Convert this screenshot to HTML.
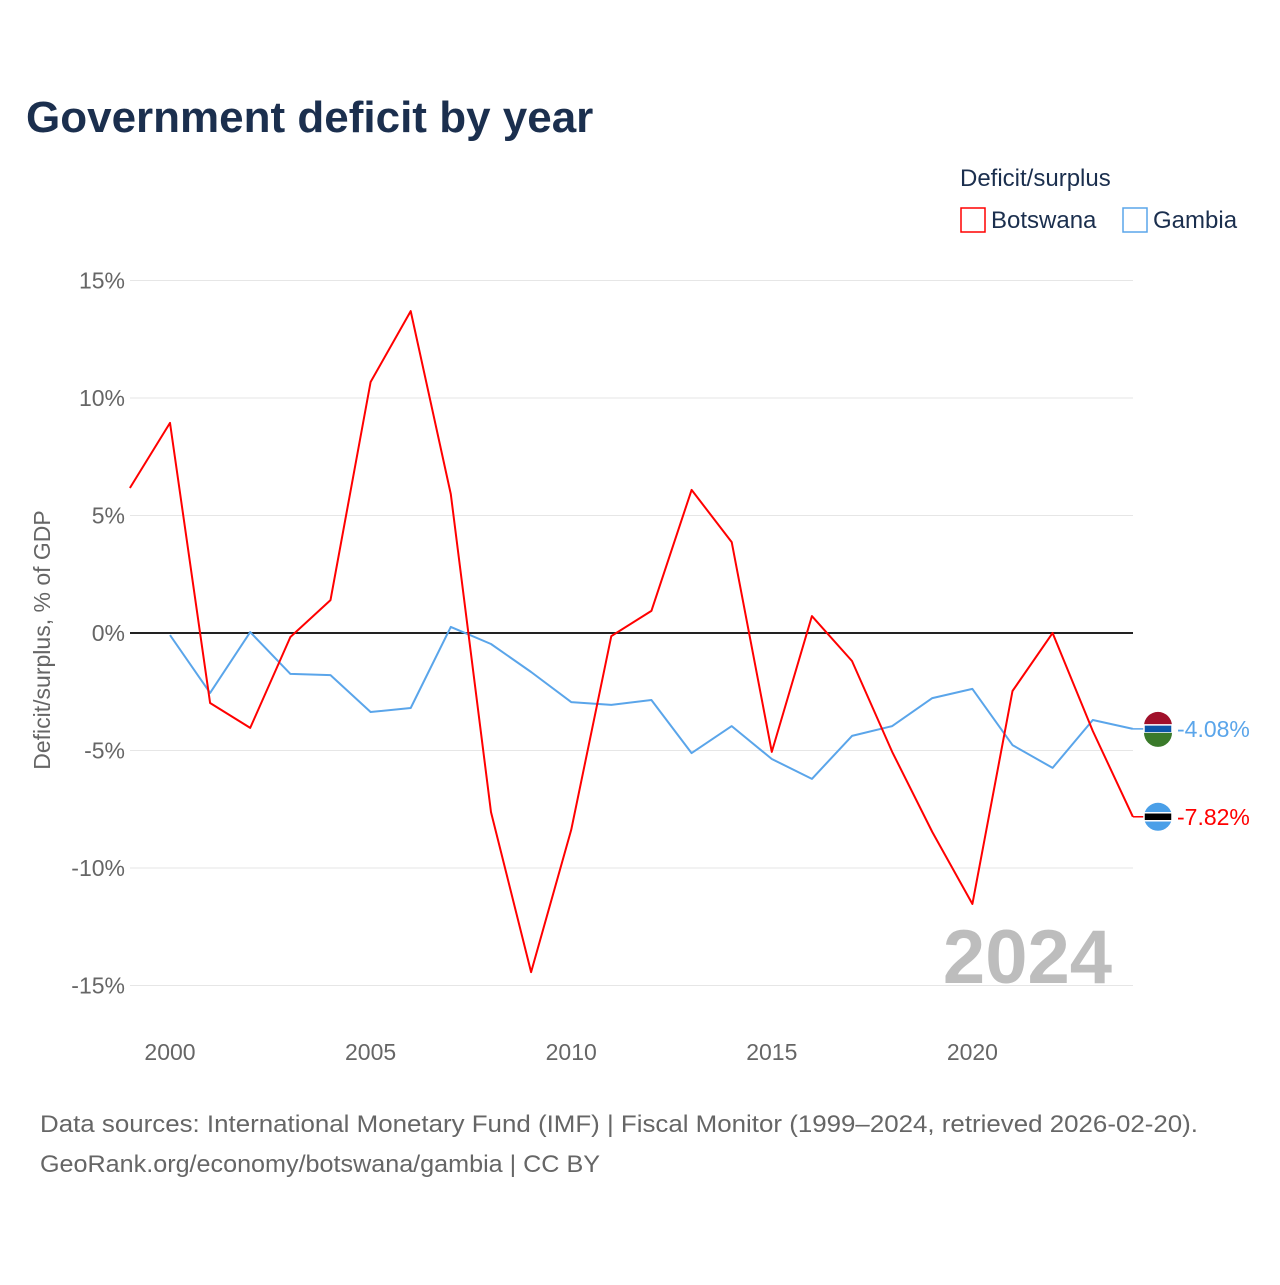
<!DOCTYPE html>
<html><head><meta charset="utf-8"><style>
body{margin:0;width:1280px;height:1280px;background:#fff;font-family:"Liberation Sans",sans-serif;overflow:hidden}
</style></head><body>
<svg id="chart" width="1280" height="1280" xmlns="http://www.w3.org/2000/svg" font-family="Liberation Sans, sans-serif">
<text x="26" y="132" font-size="44" font-weight="bold" fill="#1b2f4e">Government deficit by year</text>
<text x="960" y="186" font-size="24" fill="#1b2f4e">Deficit/surplus</text>
<g><rect x="961" y="208" width="24" height="24" fill="none" stroke="#ff0000" stroke-width="1.5"/><text x="991" y="228" font-size="24" fill="#1b2f4e">Botswana</text></g>
<g><rect x="1123" y="208" width="24" height="24" fill="none" stroke="#5aa5ea" stroke-width="1.5"/><text x="1153" y="228" font-size="24" fill="#1b2f4e">Gambia</text></g>
<text transform="translate(50,640) rotate(-90)" text-anchor="middle" font-size="23" fill="#666">Deficit/surplus, % of GDP</text>
<g id="grid"></g><g id="yticks"></g><g id="xticks"></g>
<text x="1112" y="983" text-anchor="end" font-size="76" font-weight="bold" fill="#bdbdbd">2024</text>
<g id="series"></g>
<text x="40" y="1132" font-size="24" fill="#666" textLength="1158" lengthAdjust="spacingAndGlyphs">Data sources: International Monetary Fund (IMF) | Fiscal Monitor (1999–2024, retrieved 2026-02-20).</text>
<text x="40" y="1172" font-size="24" fill="#666" textLength="560" lengthAdjust="spacingAndGlyphs">GeoRank.org/economy/botswana/gambia | CC BY</text>
</svg>
<script>
const years=[1999,2000,2001,2002,2003,2004,2005,2006,2007,2008,2009,2010,2011,2012,2013,2014,2015,2016,2017,2018,2019,2020,2021,2022,2023,2024];
const botswana=[6.17,8.94,-2.98,-4.04,-0.17,1.40,10.68,13.70,5.91,-7.62,-14.43,-8.38,-0.13,0.94,6.09,3.87,-5.06,0.72,-1.19,-5.06,-8.47,-11.53,-2.47,0.0,-4.17,-7.82];
const gambia=[null,-0.09,-2.55,0.04,-1.74,-1.79,-3.36,-3.19,0.26,-0.47,-1.66,-2.94,-3.06,-2.85,-5.11,-3.96,-5.36,-6.21,-4.38,-3.96,-2.77,-2.38,-4.77,-5.74,-3.70,-4.08];
const yTicks=[15,10,5,0,-5,-10,-15];
const xTicks=[2000,2005,2010,2015,2020];
const NS="http://www.w3.org/2000/svg";
const x=v=>170+(v-2000)*40.12;
const y=v=>633-v*23.5;
function mk(t,a,p){const e=document.createElementNS(NS,t);for(const k in a)e.setAttribute(k,a[k]);p.appendChild(e);return e;}
const grid=document.getElementById('grid'),yt=document.getElementById('yticks'),xt=document.getElementById('xticks'),se=document.getElementById('series');
yTicks.forEach(t=>{
 const l=mk('line',{x1:130,x2:1133,y1:y(t),y2:y(t),stroke:t===0?'#222':'#e6e6e6','stroke-width':t===0?2:1},grid);
 
 
 const tx=mk('text',{x:125,y:y(t)+8,'text-anchor':'end','font-size':23,fill:'#666'},yt);
 tx.textContent=t+'%';
 
 
});
xTicks.forEach(t=>{
 const tx=mk('text',{x:x(t),y:1060,'text-anchor':'middle','font-size':23,fill:'#666'},xt);
 tx.textContent=t;
 
 
});
function line(vals,color,name){
 const pts=[];vals.forEach((v,i)=>{if(v!==null)pts.push(x(years[i]).toFixed(1)+','+y(v).toFixed(1));});
 const p=mk('polyline',{points:pts.join(' '),fill:'none',stroke:color,'stroke-width':2,'stroke-linejoin':'round'},se);
 
 
 const last=vals[vals.length-1],ly=y(last);
 mk('line',{x1:1133,x2:1146,y1:ly,y2:ly,stroke:color,'stroke-width':1.5},se);
 const g=mk('g',{},se);
 
 
 if(name==='gambia'){
  mk('path',{d:`M1144 ${ly-3} A14 14 0 0 1 1172 ${ly-3} Z`,fill:'#a0102a'},g);
  mk('rect',{x:1144,y:ly-4,width:28,height:8,fill:'#0c57a8',stroke:'#fff','stroke-width':1.5},g);
  mk('path',{d:`M1144 ${ly+4} A14 14 0 0 0 1172 ${ly+4} Z`,fill:'#3a7a2a'},g);
 }else{
  mk('circle',{cx:1158,cy:ly,r:14,fill:'#4a9fe8'},g);
  mk('rect',{x:1144,y:ly-4,width:28,height:8,fill:'#000',stroke:'#fff','stroke-width':1.5},g);
 }
 const t=mk('text',{x:1177,y:ly+8,'font-size':23,fill:color},se);
 t.textContent=last.toFixed(2)+'%';
 
 
}
line(gambia,'#5aa5ea','gambia');
line(botswana,'#ff0000','botswana');
</script>
</body></html>
